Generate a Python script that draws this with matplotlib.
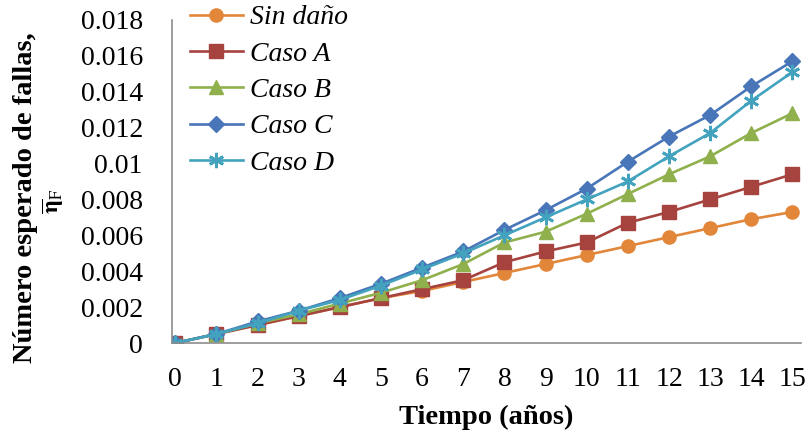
import matplotlib
matplotlib.use("Agg")
import matplotlib.pyplot as plt

plt.rcParams["font.family"] = ["Liberation Serif", "DejaVu Serif"]
plt.rcParams["mathtext.fontset"] = "stix"

years = list(range(16))

sin_dano = [0, 0.0005, 0.001, 0.0015, 0.002, 0.0025, 0.0029, 0.0034, 0.0039,
            0.0044, 0.0049, 0.0054, 0.0059, 0.0064, 0.0069, 0.0073]
caso_a = [0, 0.0005, 0.001, 0.0015, 0.002, 0.0025, 0.003, 0.0035, 0.0045,
          0.0051, 0.0056, 0.0067, 0.0073, 0.008, 0.0087, 0.0094]
caso_b = [0, 0.0005, 0.0011, 0.0016, 0.0022, 0.0028, 0.0035, 0.0044, 0.0056,
          0.0062, 0.0072, 0.0083, 0.0094, 0.0104, 0.0117, 0.0128]
caso_c = [0, 0.0005, 0.0012, 0.0018, 0.0025, 0.0033, 0.0042, 0.0051, 0.0063,
          0.0074, 0.0086, 0.0101, 0.0115, 0.0127, 0.0143, 0.0157]
caso_d = [0, 0.0005, 0.0011, 0.0018, 0.0024, 0.0032, 0.0041, 0.005, 0.006,
          0.007, 0.008, 0.009, 0.0104, 0.0117, 0.0135, 0.0151]

labels = ["Sin daño", "Caso A", "Caso B", "Caso C", "Caso D"]
yticks = [0, 0.002, 0.004, 0.006, 0.008, 0.01, 0.012, 0.014, 0.016, 0.018]
ytick_labels = ["0", "0.002", "0.004", "0.006", "0.008", "0.01", "0.012",
                "0.014", "0.016", "0.018"]

series = [sin_dano, caso_a, caso_b, caso_c, caso_d]
colors = ["#E2873A", "#A6433F", "#8FB04C", "#4876B8", "#43A3BE"]
markers = ["o", "s", "^", "D", (6, 2, 0)]
msizes = [9.5, 9.5, 10, 8, 11]

fig = plt.figure(figsize=(8.06, 4.36), dpi=100)
ax = fig.add_axes([0.2134, 0.2133, 0.780, 0.741])

for vals, lab, col, mk, ms in zip(series, labels, colors, markers, msizes):
    ax.plot(years, vals, color=col, lw=1.9, marker=mk, markersize=ms,
            markerfacecolor=col, markeredgecolor=col,
            mew=2.0 if mk == (6, 2, 0) else 1, label=lab)

ax.set_xlim(-0.08, 15.2)
ax.set_ylim(0, 0.018)
ax.set_xticks(years)
ax.set_yticks(yticks)
ax.set_yticklabels(ytick_labels)

for side in ["top", "right"]:
    ax.spines[side].set_visible(False)
for side in ["left", "bottom"]:
    ax.spines[side].set_color("#8C8C8C")
    ax.spines[side].set_linewidth(1.2)

ax.tick_params(axis="both", length=0, labelsize=20)
ax.tick_params(axis="y", pad=21)
ax.tick_params(axis="x", pad=17)

ax.set_xlabel("Tiempo (años)", fontsize=20.5, fontweight="bold")
ax.xaxis.set_label_coords(0.5, -0.19)

# y label: text line plus the symbol on its own line
fig.text(26 / 806, 1 - 198 / 436, "Número esperado de fallas,",
         rotation=90, ha="center", va="center",
         fontsize=20.5, fontweight="bold")
fig.text(53 / 806, 1 - 201 / 436,
         "$\\overline{\\mathbf{\\eta}}_{\\mathrm{F}}$",
         rotation=90, ha="center", va="center",
         fontsize=17, fontweight="bold")

ax.legend(loc="upper left", bbox_to_anchor=(190 / 806, 1 - 5 / 436),
          bbox_transform=fig.transFigure, frameon=False,
          prop={"style": "italic", "size": 20},
          handlelength=1.9, handletextpad=0.25, labelspacing=0.39,
          borderaxespad=0, borderpad=0)

fig.savefig("out.png", dpi=100)
